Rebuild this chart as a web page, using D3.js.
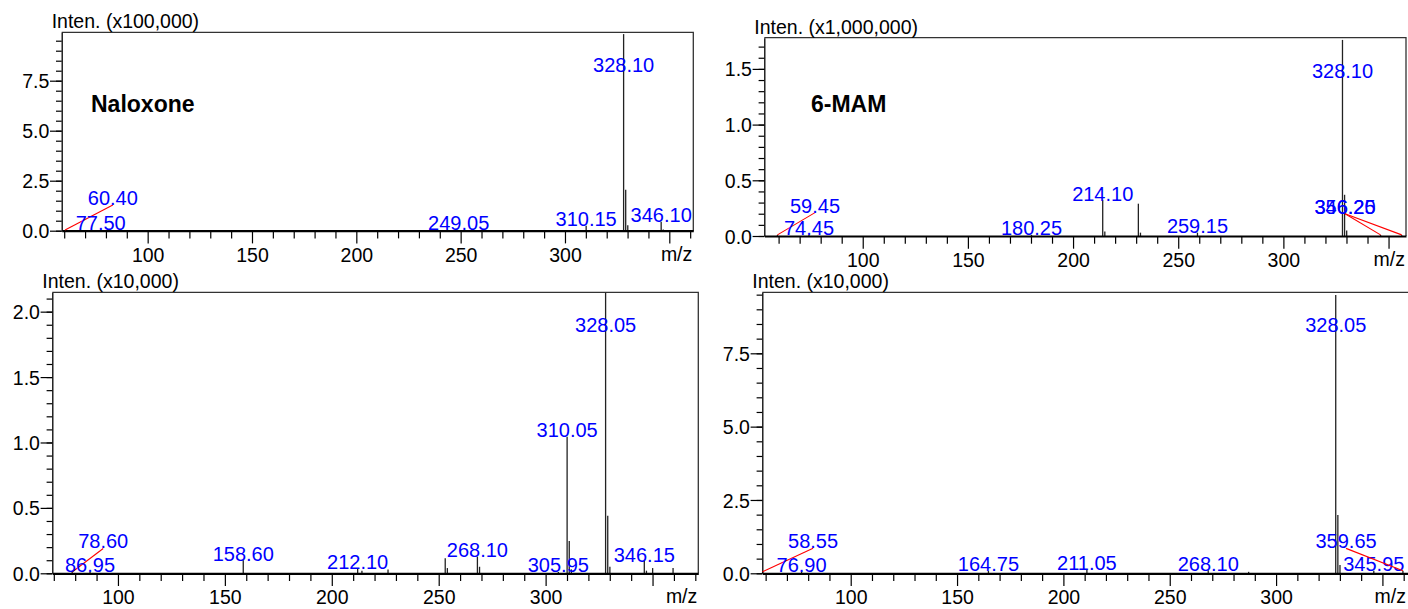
<!DOCTYPE html>
<html><head><meta charset="utf-8">
<script src="https://cdn.jsdelivr.net/npm/d3@7"></script>
<style>
body{margin:0;background:#fff;}
svg{display:block;font-family:"Liberation Sans",Arial,sans-serif;}
</style></head><body>
<svg id="c" width="1408" height="609"></svg>
<script>
// ---------- DATA ----------
// Panel A : Naloxone (x100,000)
const naloxoneMz  = [60.40, 77.50, 249.05, 310.15, 328.10, 329.10, 330.10, 346.10, 347.10];
const naloxoneInt = [0.04, 0.04, 0.04, 0.25, 9.83, 2.05, 0.27, 0.45, 0.06];
const naloxoneLabels = ["60.40", "77.50", "249.05", "310.15", "328.10", "346.10"];
const naloxoneMoved = [["60.40", 83.3, 1.28]];           // label text, label m/z, label intensity
const naloxoneXTicks = [100, 150, 200, 250, 300, 350];
const naloxoneYTicks = [0, 2.5, 5.0, 7.5];

// Panel B : 6-MAM (x1,000,000)
const mamMz  = [59.45, 74.45, 180.25, 214.10, 215.10, 231.05, 232.05, 259.15, 328.10, 329.10, 330.10, 346.20, 356.25];
const mamInt = [0.01, 0.01, 0.01, 0.32, 0.04, 0.29, 0.03, 0.03, 1.76, 0.37, 0.05, 0.01, 0.01];
const mamLabels = ["59.45", "74.45", "180.25", "214.10", "259.15", "328.10", "346.20", "356.25"];
const mamMoved = [["59.45", 77.3, 0.21], ["346.20", 329.3, 0.20], ["356.25", 329.3, 0.20]];
const mamXTicks = [100, 150, 200, 250, 300, 350];
const mamYTicks = [0, 0.5, 1.0, 1.5];

// Panel C : (x10,000)
const cMz  = [78.60, 86.95, 158.60, 212.10, 214.10, 226.30, 253.05, 254.05, 268.10, 269.10, 305.95, 310.05, 311.05, 312.05, 328.05, 329.05, 330.05, 346.15, 347.15, 350.05, 359.60];
const cInt = [0.01, 0.01, 0.10, 0.04, 0.02, 0.03, 0.115, 0.04, 0.127, 0.05, 0.01, 1.044, 0.247, 0.03, 2.145, 0.44, 0.05, 0.094, 0.02, 0.04, 0.04];
const cLabels = ["78.60", "86.95", "158.60", "212.10", "268.10", "305.95", "310.05", "328.05", "346.15"];
const cMoved = [["78.60", 93.1, 0.19]];
const cXTicks = [100, 150, 200, 250, 300, 350];
const cYTicks = [0, 0.5, 1.0, 1.5, 2.0];

// Panel D : (x10,000)
const dMz  = [58.55, 76.90, 164.75, 211.05, 268.10, 287.10, 328.05, 329.05, 330.05, 345.95, 359.65];
const dInt = [0.05, 0.05, 0.08, 0.12, 0.10, 0.05, 9.49, 1.99, 0.28, 0.09, 0.09];
const dLabels = ["58.55", "76.90", "164.75", "211.05", "268.10", "328.05", "345.95", "359.65"];
const dMoved = [["58.55", 82.3, 0.85], ["359.65", 332.9, 0.85]];
const dXTicks = [100, 150, 200, 250, 300, 350];
const dYTicks = [0, 2.5, 5.0, 7.5];

const yUnits = ["Inten. (x100,000)", "Inten. (x1,000,000)", "Inten. (x10,000)", "Inten. (x10,000)"];
const titles = ["Naloxone", "6-MAM", "", ""];

// ---------- LAYOUT ----------
const panels = [
  {mz: naloxoneMz, int: naloxoneInt, labels: naloxoneLabels, moved: naloxoneMoved,
   xMajor: naloxoneXTicks, xMinor: d3.range(60, 361, 10), yMajor: naloxoneYTicks, yMinor: d3.range(0, 9.6, 0.5),
   xDomain: [58.8, 361.5], yDomain: [0, 9.92], box: {l: 61.7, t: 32.3, r: 693.3, b: 230.7}, unit: yUnits[0], title: titles[0]},
  {mz: mamMz, int: mamInt, labels: mamLabels, moved: mamMoved,
   xMajor: mamXTicks, xMinor: d3.range(60, 351, 10), yMajor: mamYTicks, yMinor: d3.range(0, 1.75, 0.1),
   xDomain: [53.2, 358.3], yDomain: [0, 1.78], box: {l: 764.3, t: 37.7, r: 1406, b: 236}, unit: yUnits[1], title: titles[1]},
  {mz: cMz, int: cInt, labels: cLabels, moved: cMoved,
   xMajor: cXTicks, xMinor: d3.range(70, 371, 10), yMajor: cYTicks, yMinor: d3.range(0, 2.15, 0.1),
   xDomain: [69.3, 371.4], yDomain: [0, 2.148], box: {l: 52.3, t: 292.3, r: 698.3, b: 573.3}, unit: yUnits[2], title: titles[2]},
  {mz: dMz, int: dInt, labels: dLabels, moved: dMoved,
   xMajor: dXTicks, xMinor: d3.range(60, 361, 10), yMajor: dYTicks, yMinor: d3.range(0, 9.6, 0.5),
   xDomain: [58.43, 362.5], yDomain: [0, 9.58], box: {l: 762.3, t: 292.3, r: 1409, b: 573.3}, unit: yUnits[3], title: titles[3]}
];

const svg = d3.select("#c");
const FS = 19.5;
const blue = "#0000ff";

function styleAxis(sel, w) {
  sel.attr("font-family", "Liberation Sans, Arial, sans-serif").attr("font-size", FS);
  sel.selectAll("line").attr("stroke", "#000").attr("stroke-width", 1.2);
  sel.selectAll("text").attr("fill", "#000");
  sel.select(".domain").attr("stroke", "#000").attr("stroke-width", w);
}

panels.forEach(p => {
  const x = d3.scaleLinear().domain(p.xDomain).range([p.box.l, p.box.r]);
  const y = d3.scaleLinear().domain(p.yDomain).range([p.box.b, p.box.t]);
  const g = svg.append("g");

  // top / right frame
  g.append("path")
    .attr("d", `M${p.box.l},${p.box.t}H${p.box.r}V${p.box.b}`)
    .attr("fill", "none").attr("stroke", "#333").attr("stroke-width", 1.3);

  // peaks
  const pk = d3.zip(p.mz, p.int);
  g.selectAll("line.pk").data(pk).join("line").attr("class", "pk")
    .attr("x1", d => x(d[0])).attr("x2", d => x(d[0]))
    .attr("y1", y(0)).attr("y2", d => y(d[1]))
    .attr("stroke", "#222").attr("stroke-width", 1.3);

  // x axis
  const gxm = g.append("g").attr("transform", `translate(0,${p.box.b})`)
    .call(d3.axisBottom(x).tickValues(p.xMinor.filter(v => !p.xMajor.includes(v))).tickSize(7.7).tickSizeOuter(0).tickFormat(""));
  gxm.select(".domain").remove();
  styleAxis(gxm, 0);
  const gx = g.append("g").attr("transform", `translate(0,${p.box.b})`)
    .call(d3.axisBottom(x).tickValues(p.xMajor).tickSize(12.7).tickSizeOuter(0).tickPadding(4.3)
      .tickFormat(d => d === 350 ? "" : d));
  styleAxis(gx, 2.2);

  // y axis
  const gym = g.append("g").attr("transform", `translate(${p.box.l},0)`)
    .call(d3.axisLeft(y).tickValues(p.yMinor).tickSize(5.7).tickSizeOuter(0).tickFormat(""));
  gym.select(".domain").remove();
  styleAxis(gym, 0);
  const gy = g.append("g").attr("transform", `translate(${p.box.l},0)`)
    .call(d3.axisLeft(y).tickValues(p.yMajor).tickSize(11.7).tickSizeOuter(0).tickPadding(0.7)
      .tickFormat(d3.format(".1f")));
  styleAxis(gy, 1.3);
  gy.selectAll("text").attr("dy", "0.36em");

  // axis captions
  g.append("text").attr("x", p.box.l - 10).attr("y", p.box.t - 4)
    .attr("font-size", FS).attr("fill", "#000").text(p.unit);
  g.append("text").attr("x", Math.min(p.box.r, 1407) - 1).attr("y", p.box.b + 30)
    .attr("text-anchor", "end").attr("font-size", FS).attr("fill", "#000").text("m/z");

  // title
  if (p.title) {
    g.append("text").attr("x", p.box.l + (p.title === "Naloxone" ? 29.3 : 46.7)).attr("y", 111.7)
      .attr("font-size", 23).attr("font-weight", "bold").attr("fill", "#000").text(p.title);
  }

  // peak labels
  const movedMap = new Map(p.moved.map(m => [m[0], m]));
  p.labels.forEach(t => {
    const mzv = +t;
    const i = p.mz.findIndex(v => Math.abs(v - mzv) < 1e-6);
    const inten = p.int[i];
    const px = x(mzv), py = y(inten);
    let lx, ly;
    if (movedMap.has(t)) {
      const m = movedMap.get(t);
      lx = x(m[1]); ly = y(m[2]);
      g.append("line").attr("x1", px).attr("y1", py).attr("x2", lx).attr("y2", ly)
        .attr("stroke", "#ff0000").attr("stroke-width", 1.1);
    } else {
      lx = px; ly = Math.max(py + 0.5, p.box.t + 40);
    }
    g.append("text").attr("x", lx).attr("y", ly).attr("text-anchor", "middle")
      .attr("font-size", 20).attr("fill", blue).text(t);
  });
});
</script>
</body></html>
